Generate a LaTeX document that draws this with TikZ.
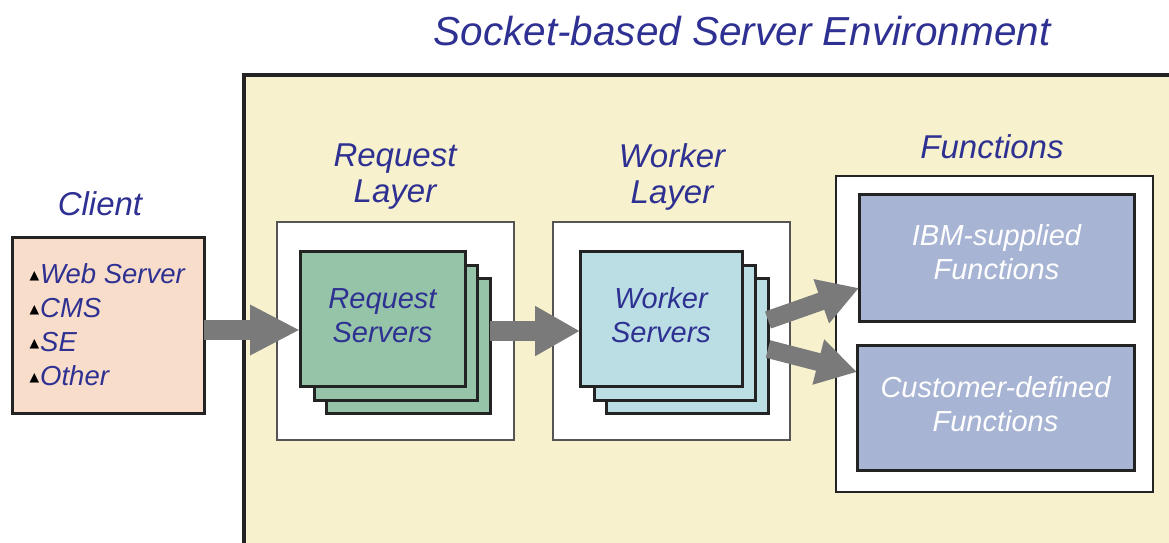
\documentclass[tikz,border=0pt]{standalone}
\usepackage{fontspec}
\setmainfont{Liberation Sans}
\newfontfamily\symfont{DejaVu Sans}
\usetikzlibrary{arrows.meta,calc}
\definecolor{txtblue}{RGB}{46,49,146}
\definecolor{yellowbg}{RGB}{247,241,206}
\definecolor{peach}{RGB}{249,221,203}
\definecolor{reqgreen}{RGB}{150,196,168}
\definecolor{wrkblue}{RGB}{186,222,228}
\definecolor{funcblue}{RGB}{168,180,212}
\definecolor{arrowgray}{RGB}{122,122,122}
\definecolor{bordercol}{RGB}{35,35,35}
\definecolor{thinborder}{RGB}{85,85,85}
\begin{document}
\begin{tikzpicture}[x=1pt,y=-1pt,
  box/.style={draw=bordercol, line width=3pt, inner sep=0pt, outer sep=0pt, anchor=north west},
  wbox/.style={draw=thinborder, fill=white, line width=1.5pt, inner sep=0pt, outer sep=0pt, anchor=north west},
  lbl/.style={text=txtblue, font=\fontsize{33}{36}\selectfont\itshape, align=center},
  card/.style={text=txtblue, font=\fontsize{29}{34}\selectfont\itshape, align=center},
  fcard/.style={text=white, font=\fontsize{29}{34}\selectfont\itshape, align=center},
  item/.style={text=txtblue, font=\fontsize{27.5}{30}\selectfont\itshape, anchor=base west, inner sep=0pt},
  bullet/.style={font=\symfont\fontsize{12.5}{13}\selectfont, anchor=east, inner sep=0pt, text=black},
  fat/.style={draw=arrowgray, line width=20pt},
  fatthin/.style={draw=arrowgray, line width=18pt}
]
\useasboundingbox (0,0) rectangle (1169,542);
\begin{scope}
\clip (0,0) rectangle (1169,542);
\draw[fill=yellowbg, draw=bordercol, line width=4pt] (244,75) rectangle (1230,620);
\end{scope}

% title
\node[lbl, font=\fontsize{40.5}{44}\selectfont\itshape] (title) at (742,31) {Socket-based Server Environment};

% client
\node[lbl] (clientlbl) at (100,204) {Client};
\node[box, fill=peach, minimum width=192pt, minimum height=176pt] (client) at (12,237) {};
\node[item] (i1) at (40,283) {Web Server};
\node[item] (i2) at (40,317) {CMS};
\node[item] (i3) at (40,351) {SE};
\node[item] (i4) at (40,385) {Other};
\node[bullet] (b1) at ($(i1.base west)+(-0.5,-7)$) {▲};
\node[bullet] (b2) at ($(i2.base west)+(-0.5,-7)$) {▲};
\node[bullet] (b3) at ($(i3.base west)+(-0.5,-7)$) {▲};
\node[bullet] (b4) at ($(i4.base west)+(-0.5,-7)$) {▲};

% request layer
\node[lbl] (reqlbl) at (395,177) {Request\\Layer};
\node[wbox, minimum width=237pt, minimum height=218pt] (rl) at (277,222) {};
\node[box, fill=reqgreen, minimum width=164pt, minimum height=135pt] (r3) at (326,278) {};
\node[box, fill=reqgreen, minimum width=163pt, minimum height=135pt] (r2) at (314,265) {};
\node[box, fill=reqgreen, minimum width=165pt, minimum height=135pt] (r1) at (300,251) {};
\node[card] (rtxt) at ($(r1.center)+(0,-3)$) {Request\\Servers};

% worker layer
\node[lbl] (wrklbl) at (672,177) {Worker\\Layer};
\node[wbox, minimum width=237pt, minimum height=218pt] (wl) at (553,222) {};
\node[box, fill=wrkblue, minimum width=162pt, minimum height=135pt] (w3) at (606,278) {};
\node[box, fill=wrkblue, minimum width=161pt, minimum height=135pt] (w2) at (594,265) {};
\node[box, fill=wrkblue, minimum width=162pt, minimum height=135pt] (w1) at (580,251) {};
\node[card] (wtxt) at ($(w1.center)+(0,-3)$) {Worker\\Servers};

% functions
\node[lbl] (funclbl) at (992,147) {Functions};
\node[wbox, draw=bordercol, line width=2pt, minimum width=317pt, minimum height=316pt] (fl) at (836,176) {};
\node[box, fill=funcblue, minimum width=275pt, minimum height=127pt] (ibm) at (859,194) {};
\node[fcard] (ibmtxt) at ($(ibm.center)+(0,-5)$) {IBM-supplied\\Functions};
\node[box, fill=funcblue, minimum width=277pt, minimum height=125pt] (cust) at (857,345) {};
\node[fcard] (custtxt) at ($(cust.center)+(0,-3)$) {Customer-defined\\Functions};

% arrows
\draw[fat, -{Triangle[length=50pt,width=47pt]}] (client.east |- 0,330) -- (r1.west |- 0,330);
\draw[fat, -{Triangle[length=45pt,width=47pt]}] (r3.east |- 0,331) -- (w1.west |- 0,331);
\draw[fatthin, -{Triangle[length=40pt,width=44pt]}] (w3.east |- 0,320) -- (ibm.west |- 0,288);
\draw[fatthin, -{Triangle[length=40pt,width=44pt]}] (w3.east |- 0,349) -- (cust.west |- 0,372);
\end{tikzpicture}
\end{document}
